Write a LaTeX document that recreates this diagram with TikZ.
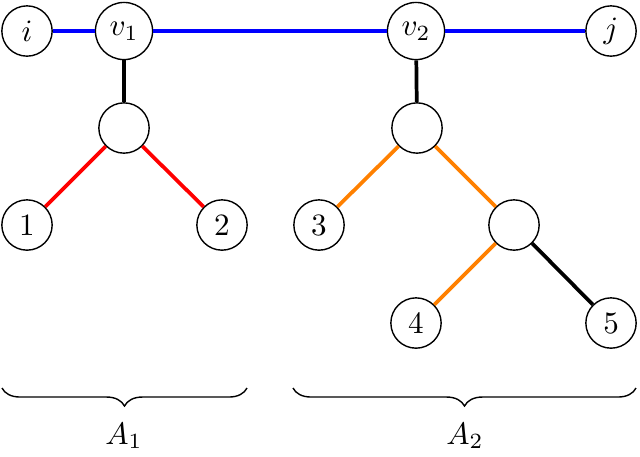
\documentclass[tikz,border=0pt]{standalone}
\usetikzlibrary{decorations.pathreplacing}
\tikzset{
  vert/.style={draw, circle, inner sep=0pt, minimum size=16.2pt, line width=0.45pt},
  bigvert/.style={vert, minimum size=18.4pt},
  edge/.style={line width=1.2pt},
  bluee/.style={edge, draw=blue},
  rede/.style={edge, draw=red},
  orae/.style={edge, draw=orange},
  blke/.style={edge, draw=black},
  bracedec/.style={decorate, decoration={brace, mirror, amplitude=5.8pt}, line width=0.45pt}
}
\begin{document}
\begin{tikzpicture}[x=0.322pt, y=-0.322pt]
\useasboundingbox (0,0) rectangle (640,456);
% nodes
\node[vert] (i) at (27,31) {$i$};
\node[bigvert] (v1) at (124,31) {$v_1$};
\node[bigvert] (v2) at (416,31) {$v_2$};
\node[vert] (j) at (611,31) {$j$};
\node[vert] (a) at (124,128) {};
\node[vert] (n1) at (27,225) {$1$};
\node[vert] (n2) at (222,225) {$2$};
\node[vert] (b) at (417,128) {};
\node[vert] (n3) at (319,225) {$3$};
\node[vert] (c) at (514,225) {};
\node[vert] (n4) at (416,323) {$4$};
\node[vert] (n5) at (611,323) {$5$};
% edges
\draw[bluee] (i) -- (v1);
\draw[bluee] (v1) -- (v2);
\draw[bluee] (v2) -- (j);
\draw[blke] (v1) -- (a);
\draw[rede] (a) -- (n1);
\draw[rede] (a) -- (n2);
\draw[blke] (v2) -- (b);
\draw[orae] (b) -- (n3);
\draw[orae] (b) -- (c);
\draw[orae] (c) -- (n4);
\draw[blke] (c) -- (n5);
% braces
\coordinate (b1s) at (2,388);
\coordinate (b1e) at (247,388);
\coordinate (b2s) at (293,388);
\coordinate (b2e) at (636,388);
\draw[bracedec] (b1s) -- (b1e);
\draw[bracedec] (b2s) -- (b2e);
\node (A1) at (124,436) {$A_1$};
\node (A2) at (465,436) {$A_2$};
\end{tikzpicture}
\end{document}
